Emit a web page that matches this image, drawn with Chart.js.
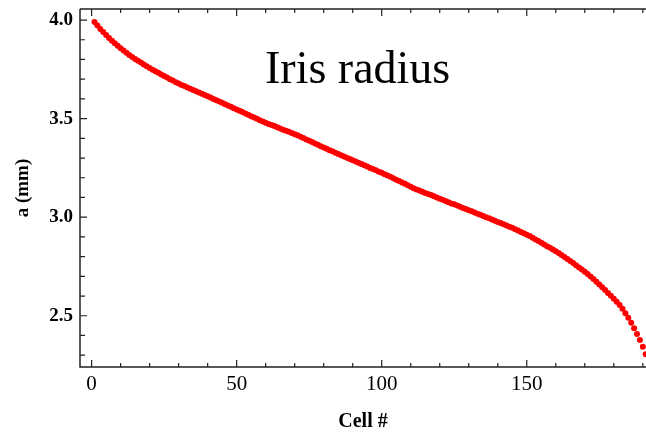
<!DOCTYPE html>
<html>
<head>
<meta charset="utf-8">
<title>Iris radius</title>
<script src="https://cdn.jsdelivr.net/npm/chart.js@4/dist/chart.umd.min.js"></script>
<style>
  html, body { margin: 0; padding: 0; background: #fff; }
  #wrap { width: 646px; height: 435px; }
</style>
</head>
<body>
<div id="wrap"><canvas id="chart" width="646" height="435"></canvas></div>
<script>
// Iris radius a (mm) per cell, cells 1..191
const radius = [
  3.990, 3.972, 3.955, 3.939, 3.924, 3.909, 3.895, 3.882, 3.869, 3.857,
  3.845, 3.834, 3.823, 3.813, 3.803, 3.793, 3.784, 3.775, 3.766, 3.757,
  3.748, 3.740, 3.732, 3.724, 3.716, 3.708, 3.700, 3.693, 3.685, 3.678,
  3.671, 3.665, 3.658, 3.652, 3.645, 3.639, 3.633, 3.626, 3.620, 3.613,
  3.607, 3.600, 3.593, 3.587, 3.580, 3.573, 3.567, 3.560, 3.553, 3.546,
  3.540, 3.533, 3.526, 3.519, 3.512, 3.506, 3.499, 3.492, 3.485, 3.479,
  3.473, 3.467, 3.462, 3.456, 3.450, 3.444, 3.438, 3.433, 3.427, 3.421,
  3.415, 3.408, 3.401, 3.394, 3.388, 3.381, 3.374, 3.367, 3.360, 3.354,
  3.347, 3.340, 3.334, 3.327, 3.321, 3.314, 3.308, 3.302, 3.295, 3.289,
  3.282, 3.276, 3.270, 3.263, 3.257, 3.250, 3.244, 3.238, 3.231, 3.225,
  3.218, 3.212, 3.205, 3.198, 3.190, 3.183, 3.176, 3.169, 3.162, 3.154,
  3.147, 3.141, 3.135, 3.129, 3.123, 3.117, 3.112, 3.106, 3.100, 3.094,
  3.088, 3.082, 3.076, 3.070, 3.065, 3.059, 3.053, 3.047, 3.041, 3.035,
  3.030, 3.024, 3.018, 3.012, 3.006, 3.000, 2.994, 2.988, 2.982, 2.976,
  2.970, 2.964, 2.958, 2.952, 2.946, 2.939, 2.932, 2.925, 2.918, 2.911,
  2.904, 2.896, 2.887, 2.879, 2.870, 2.862, 2.853, 2.845, 2.836, 2.827,
  2.818, 2.808, 2.798, 2.788, 2.778, 2.767, 2.756, 2.745, 2.734, 2.723,
  2.712, 2.699, 2.686, 2.672, 2.658, 2.644, 2.630, 2.615, 2.601, 2.586,
  2.571, 2.555, 2.535, 2.513, 2.490, 2.464, 2.437, 2.408, 2.377, 2.343,
  2.305
];

const xTicks = [0, 50, 100, 150];
const yTicks = [2.5, 3.0, 3.5, 4.0];
const xMinorTicks = [10, 20, 30, 40, 60, 70, 80, 90, 110, 120, 130, 140, 160, 170, 180, 190];
const yMinorTicks = [2.3, 2.4, 2.6, 2.7, 2.8, 2.9, 3.1, 3.2, 3.3, 3.4, 3.6, 3.7, 3.8, 3.9];

const points = radius.map((r, i) => ({ x: i + 1, y: r }));

// frame with inward ticks on left, bottom and top, plus the in-plot title
const framePlugin = {
  id: 'frame',
  afterDatasetsDraw(chart) {
    const { ctx, chartArea, scales } = chart;
    const { left, right, top, bottom } = chartArea;
    ctx.save();
    ctx.strokeStyle = '#222';
    ctx.lineWidth = 1.5;
    ctx.beginPath();
    ctx.moveTo(left, top);
    ctx.lineTo(left, bottom);
    ctx.lineTo(right, bottom);
    ctx.moveTo(left, top);
    ctx.lineTo(right, top);
    ctx.stroke();

    ctx.lineWidth = 1.2;
    ctx.beginPath();
    const xMark = (v, len) => {
      const px = scales.x.getPixelForValue(v);
      ctx.moveTo(px, bottom);
      ctx.lineTo(px, bottom - len);
      ctx.moveTo(px, top);
      ctx.lineTo(px, top + len);
    };
    const yMark = (v, len) => {
      const py = scales.y.getPixelForValue(v);
      ctx.moveTo(left, py);
      ctx.lineTo(left + len, py);
    };
    xTicks.forEach(v => xMark(v, 7));
    xMinorTicks.forEach(v => xMark(v, 4));
    yTicks.forEach(v => yMark(v, 7));
    yMinorTicks.forEach(v => yMark(v, 5));
    ctx.stroke();

    ctx.fillStyle = '#000';
    ctx.font = '46px "Liberation Serif", "Times New Roman", serif';
    ctx.textBaseline = 'alphabetic';
    ctx.textAlign = 'left';
    ctx.fillText('Iris radius', 265, 83);
    ctx.restore();
  }
};

const serif = '"Liberation Serif", "Times New Roman", serif';

new Chart(document.getElementById('chart'), {
  type: 'scatter',
  data: {
    datasets: [{
      label: 'a (mm)',
      data: points,
      backgroundColor: '#ff0000',
      borderColor: '#ff0000',
      borderWidth: 0,
      pointRadius: 3,
      pointHoverRadius: 3
    }]
  },
  options: {
    responsive: false,
    animation: false,
    layout: {
      autoPadding: false,
      padding: { top: 9, right: 0, left: 0, bottom: 0 }
    },
    plugins: {
      legend: { display: false },
      title: { display: false },
      tooltip: { enabled: false }
    },
    scales: {
      x: {
        type: 'linear',
        min: -4,
        max: 191.1,
        grid: { display: false, drawTicks: false },
        border: { display: false },
        afterBuildTicks: s => { s.ticks = xTicks.map(v => ({ value: v })); },
        afterFit: s => {
          s.height = 68;
          s.paddingLeft = 0;
          s.paddingRight = 0;
        },
        ticks: {
          padding: 5,
          color: '#000',
          maxRotation: 0,
          font: { family: serif, size: 21 }
        },
        title: {
          display: true,
          text: 'Cell #',
          color: '#000',
          padding: { top: 0, bottom: 1 },
          font: { family: serif, size: 20, weight: 'bold' }
        }
      },
      y: {
        type: 'linear',
        min: 2.24,
        max: 4.056,
        grid: { display: false, drawTicks: false },
        border: { display: false },
        afterBuildTicks: s => { s.ticks = yTicks.map(v => ({ value: v })); },
        afterFit: s => {
          s.width = 80;
          s.paddingTop = 0;
          s.paddingBottom = 0;
        },
        ticks: {
          padding: 7,
          color: '#000',
          callback: v => v.toFixed(1),
          font: { family: serif, size: 19, weight: 'bold' }
        },
        title: {
          display: true,
          text: 'a (mm)',
          color: '#000',
          padding: { top: 12, bottom: 12 },
          font: { family: serif, size: 19, weight: 'bold' }
        }
      }
    }
  },
  plugins: [framePlugin]
});
</script>
</body>
</html>
